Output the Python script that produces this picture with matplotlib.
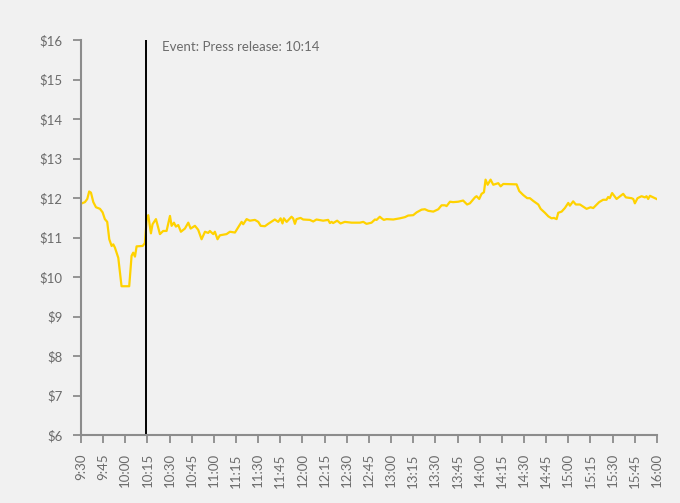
import matplotlib
matplotlib.use('Agg')
import matplotlib.pyplot as plt

# minutes after 9:30 and share price
minutes = [0, 2.7, 4.3, 5.6, 6.8, 8.4, 10.2, 12.9, 14.7, 16.2, 17.8, 19.2, 20.8, 21.9, 23,
           25.3, 27.5, 32.7, 34.3, 35.4, 36.6, 37.7, 41.8, 43.3, 44.5, 45.6, 47.4, 48.5,
           50.8, 53.5, 55.7, 58, 60.3, 61.4, 63, 64.3, 65.9, 67.7, 70.4, 72.7, 74.3, 77.2,
           79.4, 81.7, 84, 86.2, 87.3, 89.6, 90.7, 92.5, 94.1, 98.6, 100.9, 104.3, 106.5,
           108.8, 109.9, 112.2, 114.4, 117.8, 120.1, 121.7, 124.6, 126.8, 131.3, 133.6,
           135.2, 136.5, 137.4, 139.3, 142.6, 143.7, 144.9, 146, 148.7, 150.5, 155, 157.3,
           159.5, 164, 167.4, 168.6, 169.7, 170.8, 173.5, 175.8, 178.7, 183.3, 188.9, 191.2,
           193.4, 196.8, 199.1, 200.2, 202.4, 203.6, 205.1, 207, 211.5, 216, 219.4, 221.6,
           225, 227.3, 230.7, 232.9, 235.2, 238.6, 242, 244.2, 246.5, 247.6, 249.9, 252,
           255.4, 258.8, 261.5, 263.4, 266.8, 267.9, 269.7, 271.3, 272.9, 274, 275.4, 277.4,
           279.2, 282.6, 284.2, 286, 295, 296.8, 299.5, 302.2, 304, 306.3, 309.7, 311.3,
           314.2, 316.5, 318.7, 320.3, 322.1, 323.2, 325.5, 327.7, 330, 331.1, 333.3, 335.1,
           337.9, 342.4, 345.1, 346.9, 350.9, 353.6, 355.9, 357, 358.1, 359.7, 362.7, 367.2,
           369, 372.8, 374, 375.1, 376.9, 379.6, 381.9, 383, 384.1, 385.3, 387.5, 389.8]
prices = [11.86, 11.9, 11.98, 12.17, 12.14, 11.9, 11.77, 11.73, 11.64, 11.47, 11.4, 10.96,
          10.79, 10.83, 10.75, 10.49, 9.77, 9.77, 10.54, 10.62, 10.52, 10.78, 10.79, 10.86,
          11.47, 11.57, 11.11, 11.34, 11.47, 11.09, 11.17, 11.17, 11.55, 11.3, 11.38, 11.28,
          11.32, 11.15, 11.23, 11.38, 11.23, 11.3, 11.2, 10.96, 11.15, 11.12, 11.17, 11.09,
          11.15, 10.96, 11.06, 11.09, 11.15, 11.13, 11.26, 11.4, 11.34, 11.47, 11.43, 11.45,
          11.4, 11.3, 11.29, 11.35, 11.46, 11.4, 11.49, 11.36, 11.49, 11.4, 11.53, 11.49,
          11.35, 11.47, 11.5, 11.46, 11.45, 11.41, 11.46, 11.43, 11.45, 11.37, 11.4, 11.37,
          11.43, 11.36, 11.4, 11.38, 11.38, 11.4, 11.35, 11.38, 11.46, 11.45, 11.53, 11.49,
          11.45, 11.47, 11.46, 11.49, 11.52, 11.56, 11.57, 11.64, 11.71, 11.72, 11.68, 11.66,
          11.72, 11.82, 11.82, 11.8, 11.91, 11.9, 11.91, 11.94, 11.84, 11.87, 12.02, 12.05,
          11.98, 12.11, 12.15, 12.47, 12.34, 12.47, 12.34, 12.38, 12.3, 12.36, 12.35, 12.18,
          12.08, 12.0, 12.0, 11.93, 11.84, 11.73, 11.63, 11.54, 11.49, 11.5, 11.47, 11.63,
          11.66, 11.75, 11.88, 11.81, 11.92, 11.84, 11.84, 11.73, 11.77, 11.75, 11.9, 11.96,
          11.96, 12.03, 12.0, 12.13, 11.98, 12.11, 12.02, 12.0, 11.98, 11.87, 12.0, 12.05,
          12.02, 12.05, 11.98, 12.06, 12.02, 11.98]

tick_labels = ['9:30', '9:45', '10:00', '10:15', '10:30', '10:45', '11:00', '11:15',
               '11:30', '11:45', '12:00', '12:15', '12:30', '12:45', '13:00', '13:15',
               '13:30', '13:45', '14:00', '14:15', '14:30', '14:45', '15:00', '15:15',
               '15:30', '15:45', '16:00']
y_ticks = [6, 7, 8, 9, 10, 11, 12, 13, 14, 15, 16]
event_minute = 44  # 10:14
event_label = 'Event: Press release: 10:14'

bg = '#f1f1f1'
gray = '#8c8c8c'
text_gray = '#6b6b6b'

plt.rcParams['font.family'] = ['Lato', 'DejaVu Sans']

fig = plt.figure(figsize=(6.8, 5.03), dpi=100, facecolor=bg)
ax = fig.add_axes([0.119, 0.135, 0.847, 0.785], facecolor=bg)

ax.plot(minutes, prices, color='#ffd200', lw=1.6, solid_joinstyle='round')
ax.axvline(event_minute, color='black', lw=1.4)
ax.text(event_minute + 11, 15.82, event_label, fontsize=9.5, color=text_gray, va='center')

ax.set_xlim(0, 390)
ax.set_ylim(6, 16)
ax.set_xticks(range(0, 391, 15))
ax.set_xticklabels(tick_labels, rotation=90)
ax.set_yticks(y_ticks)
ax.set_yticklabels([f'${v}' for v in y_ticks])

for side in ['top', 'right']:
    ax.spines[side].set_visible(False)
for side in ['left', 'bottom']:
    ax.spines[side].set_color(gray)
    ax.spines[side].set_linewidth(1.5)
ax.tick_params(colors=gray, width=1.3, length=6, labelcolor=text_gray, labelsize=9.5, pad=7)

fig.savefig('out.png', dpi=100, facecolor=bg)
